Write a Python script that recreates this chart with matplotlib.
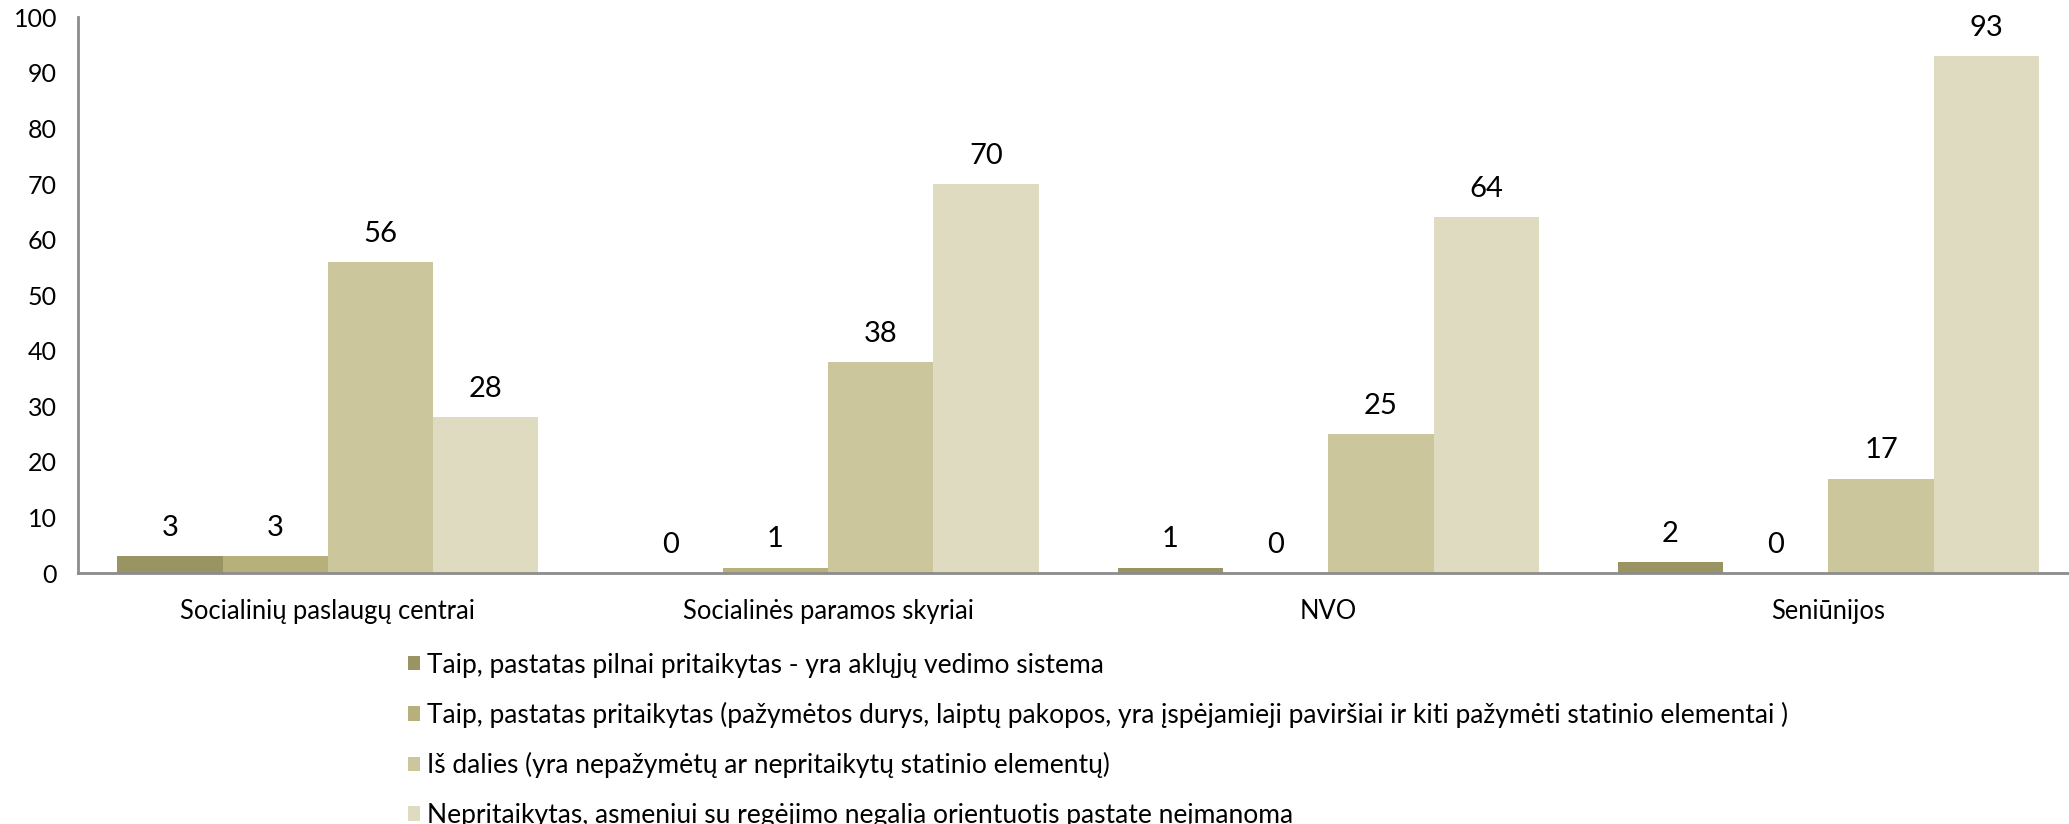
import matplotlib.pyplot as plt
import numpy as np

# Data
categories = ['Socialinių paslaugų centrai', 'Socialinės paramos skyriai', 'NVO', 'Seniūnijos']
full_system = [3, 0, 1, 2]
adapted = [3, 1, 0, 0]
partly = [56, 38, 25, 17]
not_adapted = [28, 70, 64, 93]
series_labels = [
    'Taip, pastatas pilnai pritaikytas - yra aklųjų vedimo sistema',
    'Taip, pastatas pritaikytas (pažymėtos durys, laiptų pakopos, yra įspėjamieji paviršiai ir kiti pažymėti statinio elementai )',
    'Iš dalies (yra nepažymėtų ar nepritaikytų statinio elementų)',
    'Nepritaikytas, asmeniui su regėjimo negalia orientuotis pastate neįmanoma',
]
y_ticks = [0, 10, 20, 30, 40, 50, 60, 70, 80, 90, 100]

colors = ['#9a9462', '#b8b07b', '#cbc69c', '#dedbc1']
plt.rcParams['font.family'] = ['Lato', 'DejaVu Sans']

fig = plt.figure(figsize=(20.69, 8.24), dpi=100)
# axes runs off the right edge like the cropped original
ax = fig.add_axes([0.0376, 0.3045, 0.967, 0.6745])

group_step = 4.75
x = np.arange(len(categories)) * group_step
offsets = [-1.5, -0.5, 0.5, 1.5]
all_series = [full_system, adapted, partly, not_adapted]

for vals, off, col, lab in zip(all_series, offsets, colors, series_labels):
    bars = ax.bar(x + off, vals, width=1.0, color=col, label=lab, linewidth=0)
    for b, v in zip(bars, vals):
        ax.annotate(str(v), (b.get_x() + b.get_width() / 2, v),
                    xytext=(0, 11), textcoords='offset points',
                    ha='center', va='bottom', fontsize=21)

ax.set_xlim(-2.375, 16.625)
ax.set_ylim(0, 100)
ax.set_yticks(y_ticks)
ax.set_xticks(x)
ax.set_xticklabels(categories)
ax.tick_params(axis='y', length=0, pad=15, labelsize=18)
ax.tick_params(axis='x', length=0, pad=18.5, labelsize=18.4)

for s in ['top', 'right']:
    ax.spines[s].set_visible(False)
for s in ['left', 'bottom']:
    ax.spines[s].set_color('#8c8c8c')
    ax.spines[s].set_linewidth(2)

fig.legend(loc='upper left', bbox_to_anchor=(0.197, 0.208), frameon=False,
           fontsize=19, handlelength=0.47, handleheight=0.47, handletextpad=0.25,
           labelspacing=0.92, borderaxespad=0, borderpad=0)

fig.savefig('out.png', dpi=100)
